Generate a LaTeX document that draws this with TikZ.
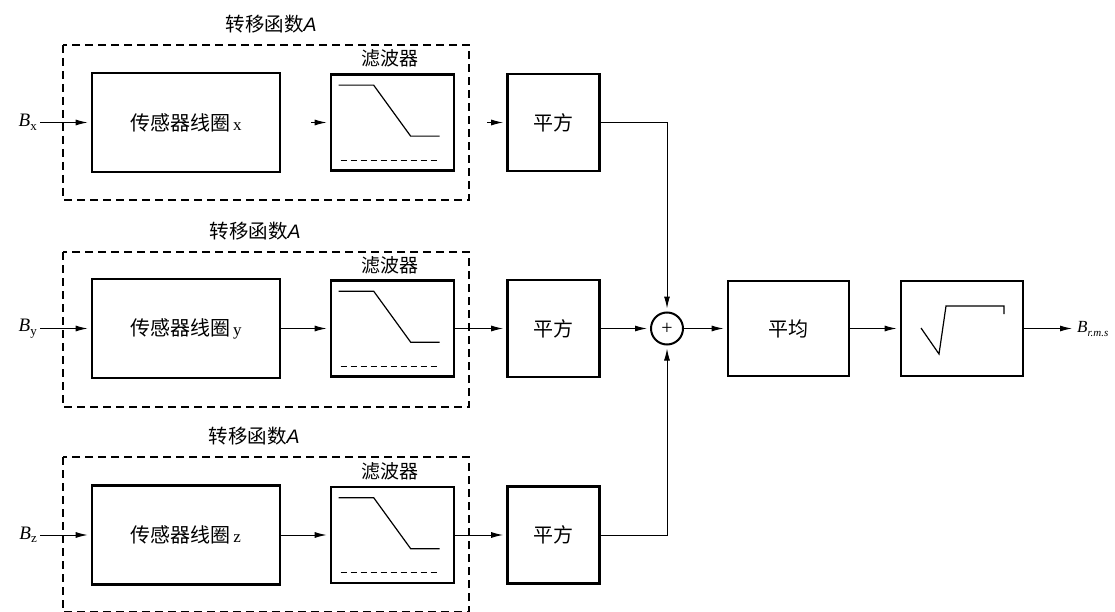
\documentclass[tikz,border=0pt]{standalone}
\usepackage{fontspec}
\setmainfont{Liberation Serif}
\newfontfamily\cjk{Noto Sans CJK SC}
\newfontfamily\sansA{Liberation Sans}
\usetikzlibrary{arrows.meta,calc}
\begin{document}
\begin{tikzpicture}[x=1pt,y=-1pt,
  blk/.style={draw,line width=2.7pt,inner sep=0pt,anchor=center},
  grp/.style={line width=1.2pt,dash pattern=on 8pt off 5pt},
  arr/.style={-{Latex[length=12pt,width=6pt]},line width=1pt,shorten >=3pt},
  curve/.style={line width=1.2pt},
  lab/.style={font=\fontsize{19}{19}\selectfont\cjk},
  ttl/.style={font=\fontsize{19.5}{19.5}\selectfont\cjk},
]
\useasboundingbox (0,0) rectangle (1115,612);
\fill[white] (0,0) rectangle (1115,612);

\foreach \r/\yc/\tp/\tx in {x/122.5/45/271, y/328.5/252/255, z/535/457/254} {
  % group box
  \ifx\r z
    \draw[grp] (63,615) -- (63,\tp) -- (469,\tp) -- (469,615);
  \else
    \draw[grp] (63,\tp) rectangle (469,\tp+155);
  \fi
  \node[ttl] (ttl\r) at (\tx,\tp-21) {转移函数{\sansA\itshape A}};
  % blocks
  \node[blk,minimum width=188,minimum height=99] (coil\r) at (186,\yc)
     {{\fontsize{20}{20}\selectfont\cjk 传感器线圈}\ {\fontsize{17}{17}\selectfont \r}};
  \node[blk,minimum width=123,minimum height=96] (filt\r) at (392.5,\yc) {};
  \node[lab,anchor=south] (flab\r) at ($(filt\r.north)+(-3,-2)$) {滤波器};
  \draw[curve] ($(filt\r.north west)+(9,12)$) -- ++(35,0) -- ++(37,51) -- ++(29,0);
  \draw[curve,dash pattern=on 6pt off 4pt] ($(filt\r.north west)+(11,87)$) -- ++(98,0);
  \node[blk,minimum width=92,minimum height=97] (sq\r) at (553.5,\yc)
     {\fontsize{20}{20}\selectfont\cjk 平方};
  % input
  \coordinate (in\r) at (40,\yc);
  \draw[arr] (in\r) -- (coil\r.west);
  \node[anchor=east,inner sep=0pt] (blab\r) at (37,\yc)
     {\fontsize{19}{19}\selectfont\textit{B}\raisebox{-0.4ex}{\fontsize{13}{13}\selectfont \r}};
}

% top row: arrowheads only
\coordinate (ax1) at (311,122.5);
\coordinate (ax2) at (487,122.5);
\draw[arr] (ax1) -- (filtx.west);
\draw[arr] (ax2) -- (sqx.west);
% middle and bottom rows
\draw[arr] (coily.east) -- (filty.west);
\draw[arr] (filty.east) -- (sqy.west);
\draw[arr] (coilz.east) -- (filtz.west);
\draw[arr] (filtz.east) -- (sqz.west);

% summation
\node[draw,circle,line width=2pt,minimum size=32,inner sep=0pt,
      font=\fontsize{20}{20}\selectfont] (sum) at (667,328.5) {+};
\draw[arr] (sqx.east) -| (sum.north);
\draw[arr] (sqz.east) -| (sum.south);
\draw[arr] (sqy.east) -- (sum.west);

\node[blk,minimum width=121,minimum height=95] (avg) at (788.5,328.5)
  {\fontsize{20}{20}\selectfont\cjk 平均};
\node[blk,minimum width=122,minimum height=95] (sqrt) at (962,328.5) {};
\draw[curve] (921,328) -- (939,354) -- (946,306) -- (1004,306) -- (1004,314);

\draw[arr] (sum.east) -- (avg.west);
\draw[arr] (avg.east) -- (sqrt.west);
\coordinate (out) at (1075,328.5);
\draw[arr] (sqrt.east) -- (out);
\node[anchor=west,inner sep=0pt] (outlab) at (1077,329)
  {\fontsize{17}{17}\selectfont\textit{B}\raisebox{-0.4ex}{\fontsize{11}{11}\selectfont\textit{r.m.s}}};
\end{tikzpicture}
\end{document}
